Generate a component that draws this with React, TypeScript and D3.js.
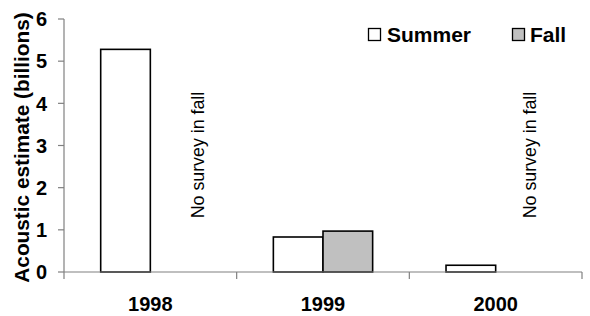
import React from "react";
import * as d3 from "d3";

const years = ["1998", "1999", "2000"];
const seriesNames = ["Summer", "Fall"];
const summer: (number | null)[] = [5.28, 0.83, 0.16];
const fall: (number | null)[] = [null, 0.97, null];
const yTicks = [0, 1, 2, 3, 4, 5, 6];
const noteYears = ["1998", "2000"];
const noteText = "No survey in fall";

const W = 590, H = 316;
const FONT = "'Liberation Sans', Arial, sans-serif";

export default function App() {
  const left = 64, right = 582, top = 19, bottom = 272;
  const x = d3.scaleBand<string>().domain(years).range([left, right]).padding(0);
  const y = d3.scaleLinear().domain([0, 6]).range([bottom, top]);
  const groupW = x.bandwidth() * 0.575;
  const colors: Record<string, string> = { Summer: "#ffffff", Fall: "#c0c0c0" };
  const values: Record<string, (number | null)[]> = { Summer: summer, Fall: fall };
  const noteOffset: Record<string, number> = { "1998": 48.5, "2000": 35 };
  const boundaries = [...years.map((d) => x(d)!), right];

  return (
    <svg width={W} height={H} style={{ position: "absolute", left: 0, top: 0 }}>
      <rect width={W} height={H} fill="#fff" />
      {years.map((yr, i) => {
        const cx = x(yr)! + x.bandwidth() / 2;
        const inner = d3.scaleBand<string>().domain(seriesNames).range([cx - groupW / 2, cx + groupW / 2]);
        return seriesNames.map((s) => {
          const v = values[s][i];
          if (v == null) return null;
          return (
            <rect key={yr + s} x={inner(s)!} y={y(v)} width={inner.bandwidth()} height={y(0) - y(v)}
              fill={colors[s]} stroke="#000" strokeWidth={1.6} />
          );
        });
      })}
      {/* y axis */}
      <line x1={left} x2={left} y1={top} y2={bottom} stroke="#808080" strokeWidth={1.2} />
      {yTicks.map((t) => (
        <g key={t}>
          <line x1={left - 6} x2={left} y1={y(t)} y2={y(t)} stroke="#808080" strokeWidth={1.2} />
          <text x={left - 17} y={y(t)} dy="0.36em" textAnchor="end" fontFamily={FONT} fontWeight="bold" fontSize={20}>{t}</text>
        </g>
      ))}
      {/* x axis */}
      <line x1={left} x2={right} y1={bottom} y2={bottom} stroke="#808080" strokeWidth={1.2} />
      {boundaries.map((b, i) => (
        <line key={i} x1={b} x2={b} y1={bottom} y2={bottom + 7} stroke="#808080" strokeWidth={1.2} />
      ))}
      {years.map((yr) => (
        <text key={yr} x={x(yr)! + x.bandwidth() / 2} y={311} textAnchor="middle" fontFamily={FONT} fontWeight="bold" fontSize={20}>{yr}</text>
      ))}
      <text transform={`translate(29,${(top + bottom) / 2 + 2}) rotate(-90)`} textAnchor="middle" fontFamily={FONT} fontWeight="bold" fontSize={20.8}>
        Acoustic estimate (billions)
      </text>
      {noteYears.map((yr) => (
        <text key={yr} transform={`translate(${x(yr)! + x.bandwidth() / 2 + noteOffset[yr] + 5},155) rotate(-90)`} textAnchor="middle" fontFamily={FONT} fontSize={17.8}>
          {noteText}
        </text>
      ))}
      {/* legend */}
      <rect x={368.5} y={28.5} width={12} height={12} fill={colors.Summer} stroke="#000" strokeWidth={1.3} />
      <text x={387} y={41.5} fontFamily={FONT} fontWeight="bold" fontSize={21}>Summer</text>
      <rect x={512.5} y={28.5} width={12} height={12} fill={colors.Fall} stroke="#000" strokeWidth={1.3} />
      <text x={530} y={41.5} fontFamily={FONT} fontWeight="bold" fontSize={21}>Fall</text>
    </svg>
  );
}
